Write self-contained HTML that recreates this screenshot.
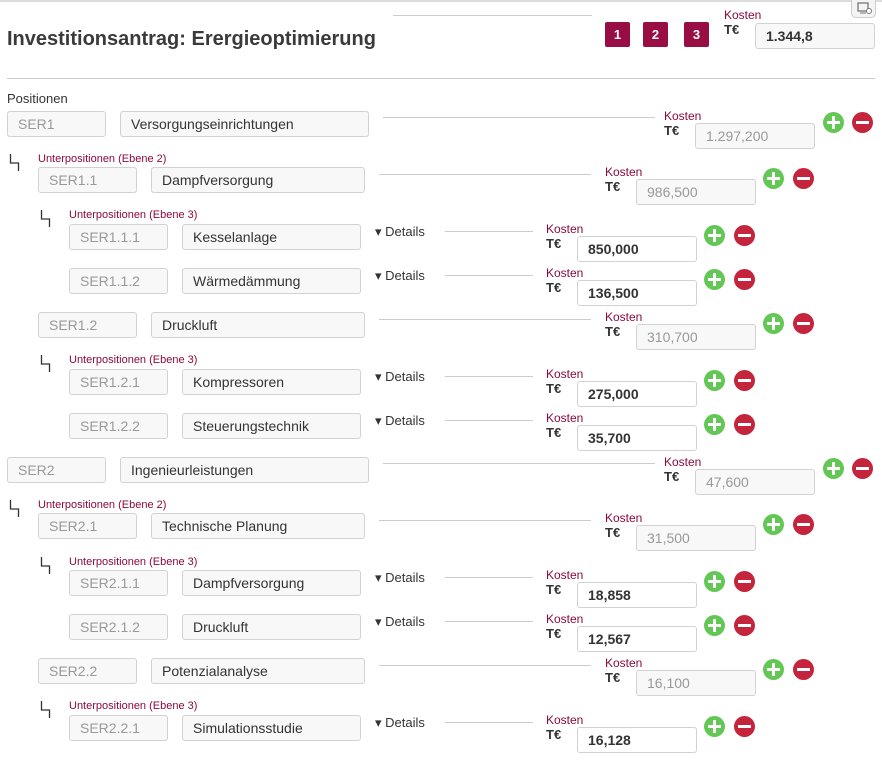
<!DOCTYPE html>
<html><head><meta charset="utf-8"><style>
*{margin:0;padding:0;box-sizing:border-box}
body{width:882px;height:770px;background:#fff;position:relative;overflow:hidden;font-family:"Liberation Sans",sans-serif;color:#333}
.a{position:absolute}
.r{position:absolute;left:0;width:882px;height:40px}
.r>div{position:absolute}
.box{height:26px;border:1px solid #d2d2d2;border-radius:3px;background:#f8f8f8;font-size:14px;line-height:24px;padding-left:10px;white-space:nowrap}
.c{color:#999;width:99px;top:0}
.n{color:#333;top:0}
.ln{height:1px;background:#ccc}
.k{font-size:12px;color:#8b0a3c;top:-2px}
.t{font-size:13px;font-weight:bold;top:12px}
.v{width:120px;top:12px;color:#999;background:#f8f8f8}
.v.e{color:#333;font-weight:bold;background:#fff}
.p,.m{width:21px;height:21px;border-radius:50%;top:1px}
.p{background:#62c754}
.m{background:#c4243c}
.p:before,.p:after,.m:before{content:"";position:absolute;background:#fff;left:4px;top:9px;width:13px;height:3px}
.p:after{left:9px;top:4px;width:3px;height:13px}
.d{font-size:13px;top:0px}
.L1 .c{left:7px}.L1 .n{left:120px;width:249px}.L1 .ln{left:383px;width:272px;top:6px}.L1 .k,.L1 .t{left:664px}.L1 .v{left:695px}.L1 .p{left:823px}.L1 .m{left:852px}
.L2 .c{left:38px}.L2 .n{left:151px;width:214px}.L2 .ln{left:379px;width:212px;top:7px}.L2 .k,.L2 .t{left:605px}.L2 .v{left:636px}.L2 .p{left:763px}.L2 .m{left:793px}
.L3 .c{left:69px}.L3 .n{left:182px;width:179px}.L3 .ln{left:445px;width:88px;top:7px}.L3 .d{left:375px}.L3 .k,.L3 .t{left:546px}.L3 .v{left:577px}.L3 .p{left:704px}.L3 .m{left:734px}
.u{font-size:11px;color:#8b0a3c}
.btn{width:25px;height:25px;background:#970d44;color:#fff;font-size:13px;font-weight:bold;text-align:center;line-height:25px;border-radius:2px;top:22px}
</style></head><body>
<div class="a" style="left:0;top:0;width:882px;height:2px;background:#ddd"></div>
<div class="a" style="left:851px;top:0;width:25px;height:18px;border:1px solid #ccc;border-top:none;border-radius:0 0 5px 5px;background:#f4f4f4"><svg width="23" height="16"><rect x="6" y="3" width="10" height="8" fill="none" stroke="#777" stroke-width="1.3"/><line x1="8" y1="13" x2="14" y2="13" stroke="#777"/><circle cx="17" cy="11" r="2.5" fill="#fff" stroke="#777"/></svg></div>
<div class="a" style="left:7px;top:28px;font-size:20px;font-weight:bold;color:#3a3a3a">Investitionsantrag: Erergieoptimierung</div>
<div class="a ln" style="left:393px;top:15px;width:199px"></div>
<div class="a btn" style="left:605px">1</div>
<div class="a btn" style="left:643px">2</div>
<div class="a btn" style="left:684px">3</div>
<div class="a k" style="left:724px;top:8px">Kosten</div>
<div class="a t" style="left:724px;top:22px">T€</div>
<div class="a box" style="left:755px;top:23px;width:120px;background:#f8f8f8;font-weight:bold">1.344,8</div>
<div class="a ln" style="left:7px;top:78px;width:868px"></div>
<div class="a" style="left:7px;top:91px;font-size:13px">Positionen</div>

<div class="r L1" style="top:111px"><div class="box c">SER1</div><div class="box n">Versorgungseinrichtungen</div><div class="ln"></div><div class="k">Kosten</div><div class="t">T€</div><div class="box v">1.297,200</div><div class="p"></div><div class="m"></div></div>
<svg class="a" style="left:0;top:150px" width="30" height="25"><polyline points="10.5,4 10.5,13 18.5,13 18.5,21" fill="none" stroke="#333" stroke-width="1.3"/></svg>
<div class="a u" style="left:38px;top:153px">Unterpositionen (Ebene 2)</div>
<div class="r L2" style="top:167px"><div class="box c">SER1.1</div><div class="box n">Dampfversorgung</div><div class="ln"></div><div class="k">Kosten</div><div class="t">T€</div><div class="box v">986,500</div><div class="p"></div><div class="m"></div></div>
<svg class="a" style="left:31px;top:206px" width="30" height="25"><polyline points="10.5,4 10.5,13 18.5,13 18.5,21" fill="none" stroke="#333" stroke-width="1.3"/></svg>
<div class="a u" style="left:69px;top:209px">Unterpositionen (Ebene 3)</div>
<div class="r L3" style="top:224px"><div class="box c">SER1.1.1</div><div class="box n">Kesselanlage</div><div class="d">▾ Details</div><div class="ln"></div><div class="k">Kosten</div><div class="t">T€</div><div class="box v e">850,000</div><div class="p"></div><div class="m"></div></div>
<div class="r L3" style="top:268px"><div class="box c">SER1.1.2</div><div class="box n">Wärmedämmung</div><div class="d">▾ Details</div><div class="ln"></div><div class="k">Kosten</div><div class="t">T€</div><div class="box v e">136,500</div><div class="p"></div><div class="m"></div></div>
<div class="r L2" style="top:312px"><div class="box c">SER1.2</div><div class="box n">Druckluft</div><div class="ln"></div><div class="k">Kosten</div><div class="t">T€</div><div class="box v">310,700</div><div class="p"></div><div class="m"></div></div>
<svg class="a" style="left:31px;top:351px" width="30" height="25"><polyline points="10.5,4 10.5,13 18.5,13 18.5,21" fill="none" stroke="#333" stroke-width="1.3"/></svg>
<div class="a u" style="left:69px;top:354px">Unterpositionen (Ebene 3)</div>
<div class="r L3" style="top:369px"><div class="box c">SER1.2.1</div><div class="box n">Kompressoren</div><div class="d">▾ Details</div><div class="ln"></div><div class="k">Kosten</div><div class="t">T€</div><div class="box v e">275,000</div><div class="p"></div><div class="m"></div></div>
<div class="r L3" style="top:413px"><div class="box c">SER1.2.2</div><div class="box n">Steuerungstechnik</div><div class="d">▾ Details</div><div class="ln"></div><div class="k">Kosten</div><div class="t">T€</div><div class="box v e">35,700</div><div class="p"></div><div class="m"></div></div>

<div class="r L1" style="top:457px"><div class="box c">SER2</div><div class="box n">Ingenieurleistungen</div><div class="ln"></div><div class="k">Kosten</div><div class="t">T€</div><div class="box v">47,600</div><div class="p"></div><div class="m"></div></div>
<svg class="a" style="left:0;top:496px" width="30" height="25"><polyline points="10.5,4 10.5,13 18.5,13 18.5,21" fill="none" stroke="#333" stroke-width="1.3"/></svg>
<div class="a u" style="left:38px;top:499px">Unterpositionen (Ebene 2)</div>
<div class="r L2" style="top:513px"><div class="box c">SER2.1</div><div class="box n">Technische Planung</div><div class="ln"></div><div class="k">Kosten</div><div class="t">T€</div><div class="box v">31,500</div><div class="p"></div><div class="m"></div></div>
<svg class="a" style="left:31px;top:553px" width="30" height="25"><polyline points="10.5,4 10.5,13 18.5,13 18.5,21" fill="none" stroke="#333" stroke-width="1.3"/></svg>
<div class="a u" style="left:69px;top:556px">Unterpositionen (Ebene 3)</div>
<div class="r L3" style="top:570px"><div class="box c">SER2.1.1</div><div class="box n">Dampfversorgung</div><div class="d">▾ Details</div><div class="ln"></div><div class="k">Kosten</div><div class="t">T€</div><div class="box v e">18,858</div><div class="p"></div><div class="m"></div></div>
<div class="r L3" style="top:614px"><div class="box c">SER2.1.2</div><div class="box n">Druckluft</div><div class="d">▾ Details</div><div class="ln"></div><div class="k">Kosten</div><div class="t">T€</div><div class="box v e">12,567</div><div class="p"></div><div class="m"></div></div>
<div class="r L2" style="top:658px"><div class="box c">SER2.2</div><div class="box n">Potenzialanalyse</div><div class="ln"></div><div class="k">Kosten</div><div class="t">T€</div><div class="box v">16,100</div><div class="p"></div><div class="m"></div></div>
<svg class="a" style="left:31px;top:697px" width="30" height="25"><polyline points="10.5,4 10.5,13 18.5,13 18.5,21" fill="none" stroke="#333" stroke-width="1.3"/></svg>
<div class="a u" style="left:69px;top:700px">Unterpositionen (Ebene 3)</div>
<div class="r L3" style="top:715px"><div class="box c">SER2.2.1</div><div class="box n">Simulationsstudie</div><div class="d">▾ Details</div><div class="ln"></div><div class="k">Kosten</div><div class="t">T€</div><div class="box v e">16,128</div><div class="p"></div><div class="m"></div></div>
</body></html>
